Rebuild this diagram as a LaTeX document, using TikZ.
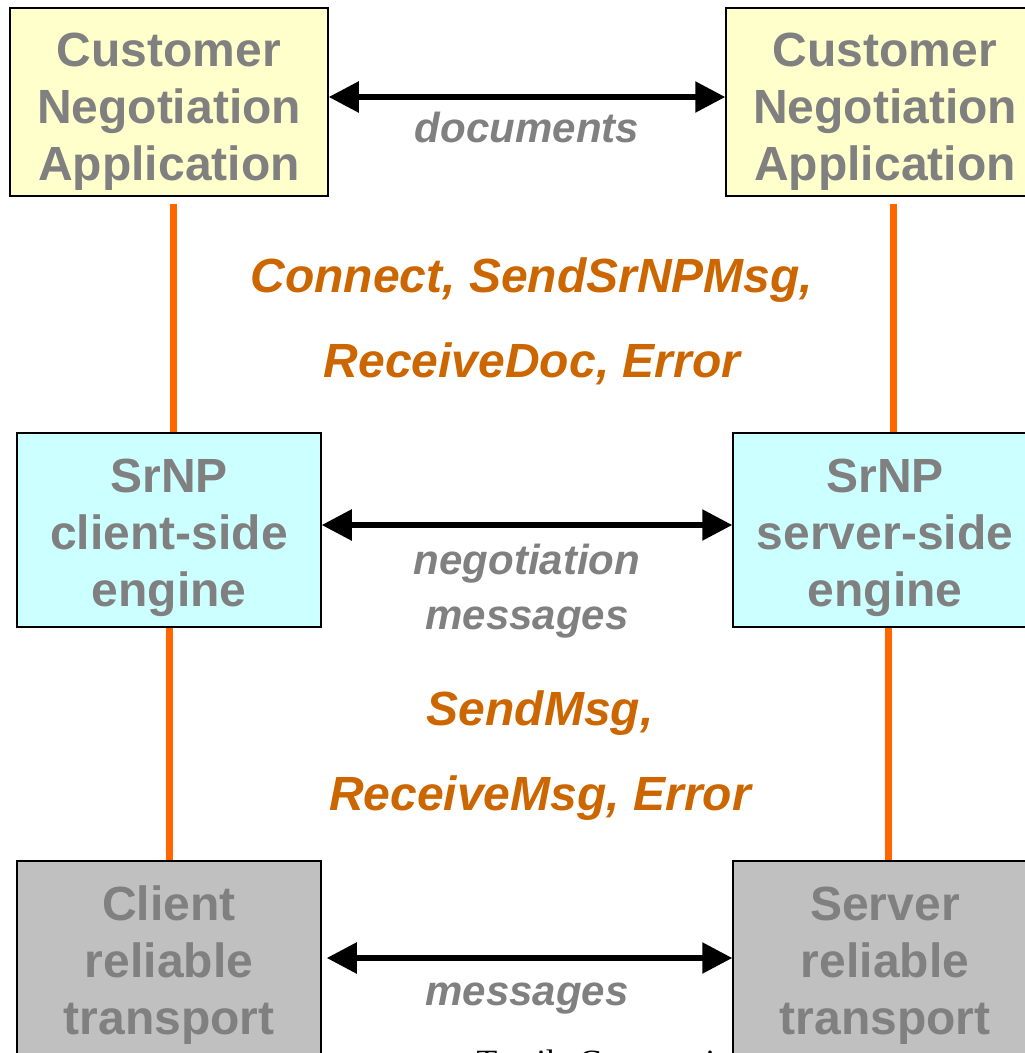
\documentclass[tikz,border=0pt]{standalone}
\usepackage{fontspec}
\setmainfont{Liberation Sans}
\newfontfamily\footfont{Liberation Serif}
\usetikzlibrary{arrows.meta, positioning}
\definecolor{boxgray}{HTML}{808080}
\definecolor{appyellow}{HTML}{FFFFCC}
\definecolor{engcyan}{HTML}{CCFFFF}
\definecolor{trgray}{HTML}{C0C0C0}
\definecolor{apiorange}{HTML}{FF6600}
\definecolor{callorange}{HTML}{CC6600}

\begin{document}
\begin{tikzpicture}[x=1pt, y=-1pt, on grid,
		box/.style={draw=black, line width=1.5pt, text=boxgray, align=center, inner sep=0pt,
			font=\fontsize{48}{57}\selectfont\bfseries, text depth=10pt},
		app/.style={box, fill=appyellow, minimum width=318pt, minimum height=188pt, text height=166pt},
		engine/.style={box, fill=engcyan, minimum width=304pt, minimum height=194pt, text height=162pt},
		transport/.style={box, fill=trgray, minimum width=304pt, minimum height=194pt, text height=162pt},
		lbl/.style={text=boxgray, align=center, inner sep=0pt, font=\fontsize{42}{55}\selectfont\bfseries\itshape},
		calls/.style={text=callorange, align=center, font=\fontsize{48}{85}\selectfont\bfseries\itshape},
		arr/.style={{Triangle[length=30pt,width=30pt]}-{Triangle[length=30pt,width=30pt]}, line width=5.5pt},
		api/.style={draw=apiorange, line width=7pt}]
	\path[use as bounding box, clip] (0,0) rectangle (1025,1053);
	\node[anchor=base west, font=\footfont\fontsize{34}{40}\selectfont] (footer) at (473,1073) {Textile Communications};
	\node[app] (ca) at (169,102) {Customer\\Negotiation\\Application};
	\node[app] (sa) [right=716pt of ca] {Customer\\Negotiation\\Application};
	\node[engine] (ce) [below=428pt of ca] {SrNP\\client-side\\engine};
	\node[engine] (se) [right=716pt of ce] {SrNP\\server-side\\engine};
	\node[transport] (ct) [below=428pt of ce] {Client\\reliable\\transport};
	\node[transport] (st) [right=716pt of ct] {Server\\reliable\\transport};
	\node[calls] (upcalls) at (532,321) {Connect, SendSrNPMsg,\\ReceiveDoc, Error};
	\node[calls] (downcalls) at (540,756) {SendMsg,\\ReceiveMsg, Error};
	\path[arr]
		([yshift=5pt]ca.east) edge node [lbl, below=12pt] {documents} ([yshift=5pt]sa.west)
		([yshift=5pt]ce.east) edge node [lbl, below=16pt] {negotiation\\messages} ([yshift=5pt]se.west)
		(ct.east) edge [shorten <=5pt] node [lbl, below=22pt] {messages} (st.west);
	\path[api]
		([xshift=4pt]ca.south) edge [shorten <=7pt] ([xshift=4pt]ce.north)
		([xshift=8pt]sa.south) edge [shorten <=7pt] ([xshift=8pt]se.north)
		(ce.south) edge (ct.north)
		([xshift=3pt]se.south) edge ([xshift=3pt]st.north);
\end{tikzpicture}
\end{document}
